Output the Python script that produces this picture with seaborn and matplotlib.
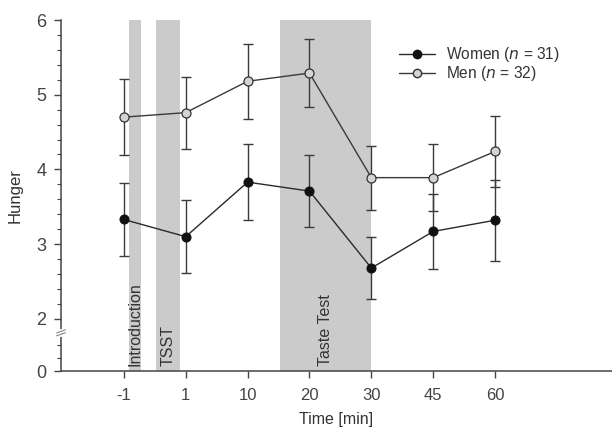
import numpy as np
import pandas as pd
import matplotlib
matplotlib.use("Agg")
import matplotlib.pyplot as plt
import matplotlib.transforms as mtransforms
from matplotlib.lines import Line2D
import seaborn as sns

# data
times = ['-1', '1', '10', '20', '30', '45', '60']
women_mean = [3.33, 3.10, 3.83, 3.71, 2.68, 3.17, 3.32]
women_err = [0.49, 0.49, 0.51, 0.48, 0.42, 0.50, 0.54]
men_mean = [4.70, 4.76, 5.18, 5.29, 3.89, 3.89, 4.24]
men_err = [0.51, 0.48, 0.50, 0.45, 0.43, 0.45, 0.48]

# shaded phases (in category positions)
phases = ['Introduction', 'TSST', 'Taste Test']
phase_start = [0.085, 0.525, 2.53]
phase_end = [0.28, 0.91, 3.99]

sns.set_style("white")
plt.rcParams['font.family'] = ['Liberation Sans', 'DejaVu Sans']
txt = '#333333'
plt.rcParams['text.color'] = txt
plt.rcParams['axes.labelcolor'] = txt
plt.rcParams['xtick.color'] = '#444444'
plt.rcParams['ytick.color'] = '#444444'
plt.rcParams['xtick.bottom'] = True
plt.rcParams['ytick.left'] = True

pos = np.arange(len(times))
df = pd.DataFrame({
    'pos': np.concatenate([pos, pos]),
    'Hunger': women_mean + men_mean,
    'group': ['Women'] * len(times) + ['Men'] * len(times),
})

#broken axis: 0-2 squeezed
k = 0.349
def fwd(y):
    y = np.asarray(y, dtype=float)
    return np.where(y >= 2, y, 2 - (2 - y) * k)
def inv(u):
    u = np.asarray(u, dtype=float)
    return np.where(u >= 2, u, 2 - (2 - u) / k)

fig = plt.figure(figsize=(6.12, 4.32), dpi=100)
ax = fig.add_axes([0.0997, 0.1412, 0.9003, 0.8125])
ax.set_yscale('function', functions=(fwd, inv))

for s, e in zip(phase_start, phase_end):
    ax.axvspan(s, e, ymin=0, ymax=1, color='#cbcbcb', lw=0, zorder=0)
bx = mtransforms.blended_transform_factory(ax.transData, ax.transAxes)
for name, s, e in zip(phases, phase_start, phase_end):
    ax.text((s + e) / 2, 0.015, name, rotation=90, ha='center', va='bottom',
            fontsize=11.5, color=txt, transform=bx)

ax.errorbar(pos, women_mean, yerr=women_err, fmt='none', ecolor='#3a3a3a',
            elinewidth=1, capsize=3.4, capthick=1, zorder=2)
ax.errorbar(pos, men_mean, yerr=men_err, fmt='none', ecolor='#3a3a3a',
            elinewidth=1, capsize=3.4, capthick=1, zorder=2)

sns.lineplot(data=df, x='pos', y='Hunger', hue='group',
             palette=['#2a2a2a', '#3a3a3a'], marker='o', markersize=6.5,
             linewidth=1, ax=ax, zorder=3, legend=False)
# marker faces
lines = ax.get_lines()[-2:]
lines[0].set_markerfacecolor('#111111')
lines[0].set_markeredgecolor('#111111')
lines[1].set_markerfacecolor('#d4d4d4')
lines[1].set_markeredgecolor('#333333')
lines[1].set_markeredgewidth(0.9)

handles = [Line2D([], [], color='#2a2a2a', lw=1, marker='o', markersize=6,
                  markerfacecolor='#111111', markeredgecolor='#111111'),
           Line2D([], [], color='#3a3a3a', lw=1, marker='o', markersize=6,
                  markerfacecolor='#d4d4d4', markeredgecolor='#333333')]
ax.legend(handles, ['Women ($n$ = 31)', 'Men ($n$ = 32)'], frameon=False,
          loc='upper left', bbox_to_anchor=(0.588, 0.968), fontsize=11.2,
          handlelength=2.3, handletextpad=0.7, labelspacing=0.0)

ax.set_xlim(-1.016, 7.89)
ax.set_ylim(0, 6)
ax.set_xticks(pos)
ax.set_xticklabels(times, fontsize=12)
ax.set_yticks([0, 2, 3, 4, 5, 6])
ax.set_yticklabels(['0', '2', '3', '4', '5', '6'], fontsize=13)
ax.set_yticks([0.5, 1.0] + [v for v in np.arange(2.2, 6, 0.2) if abs(v - round(v)) > 0.05],
              minor=True)
ax.tick_params(axis='both', which='major', direction='out', length=5, width=1)
ax.tick_params(axis='y', which='major', pad=5.5)
ax.tick_params(axis='y', which='minor', direction='out', length=3, width=0.8)
ax.tick_params(axis='x', pad=7)
ax.set_xlabel('Time [min]', fontsize=11.5, labelpad=7)
ax.set_ylabel('Hunger', fontsize=12, labelpad=10)

sns.despine(ax=ax)
for sp in ['left', 'bottom']:
    ax.spines[sp].set_color('#444444')
    ax.spines[sp].set_linewidth(1.1)

# axis break marks
bt = mtransforms.blended_transform_factory(ax.transAxes, ax.transData)
ax.plot([0, 0], [1.38, 1.55], color='white', lw=3, transform=bt, clip_on=False, zorder=5)
for yc in (1.41, 1.52):
    ax.plot([-0.008, 0.008], [yc - 0.06, yc + 0.06], color='#888888', lw=0.8,
            transform=bt, clip_on=False, zorder=6)

fig.savefig('out.png', dpi=100)
